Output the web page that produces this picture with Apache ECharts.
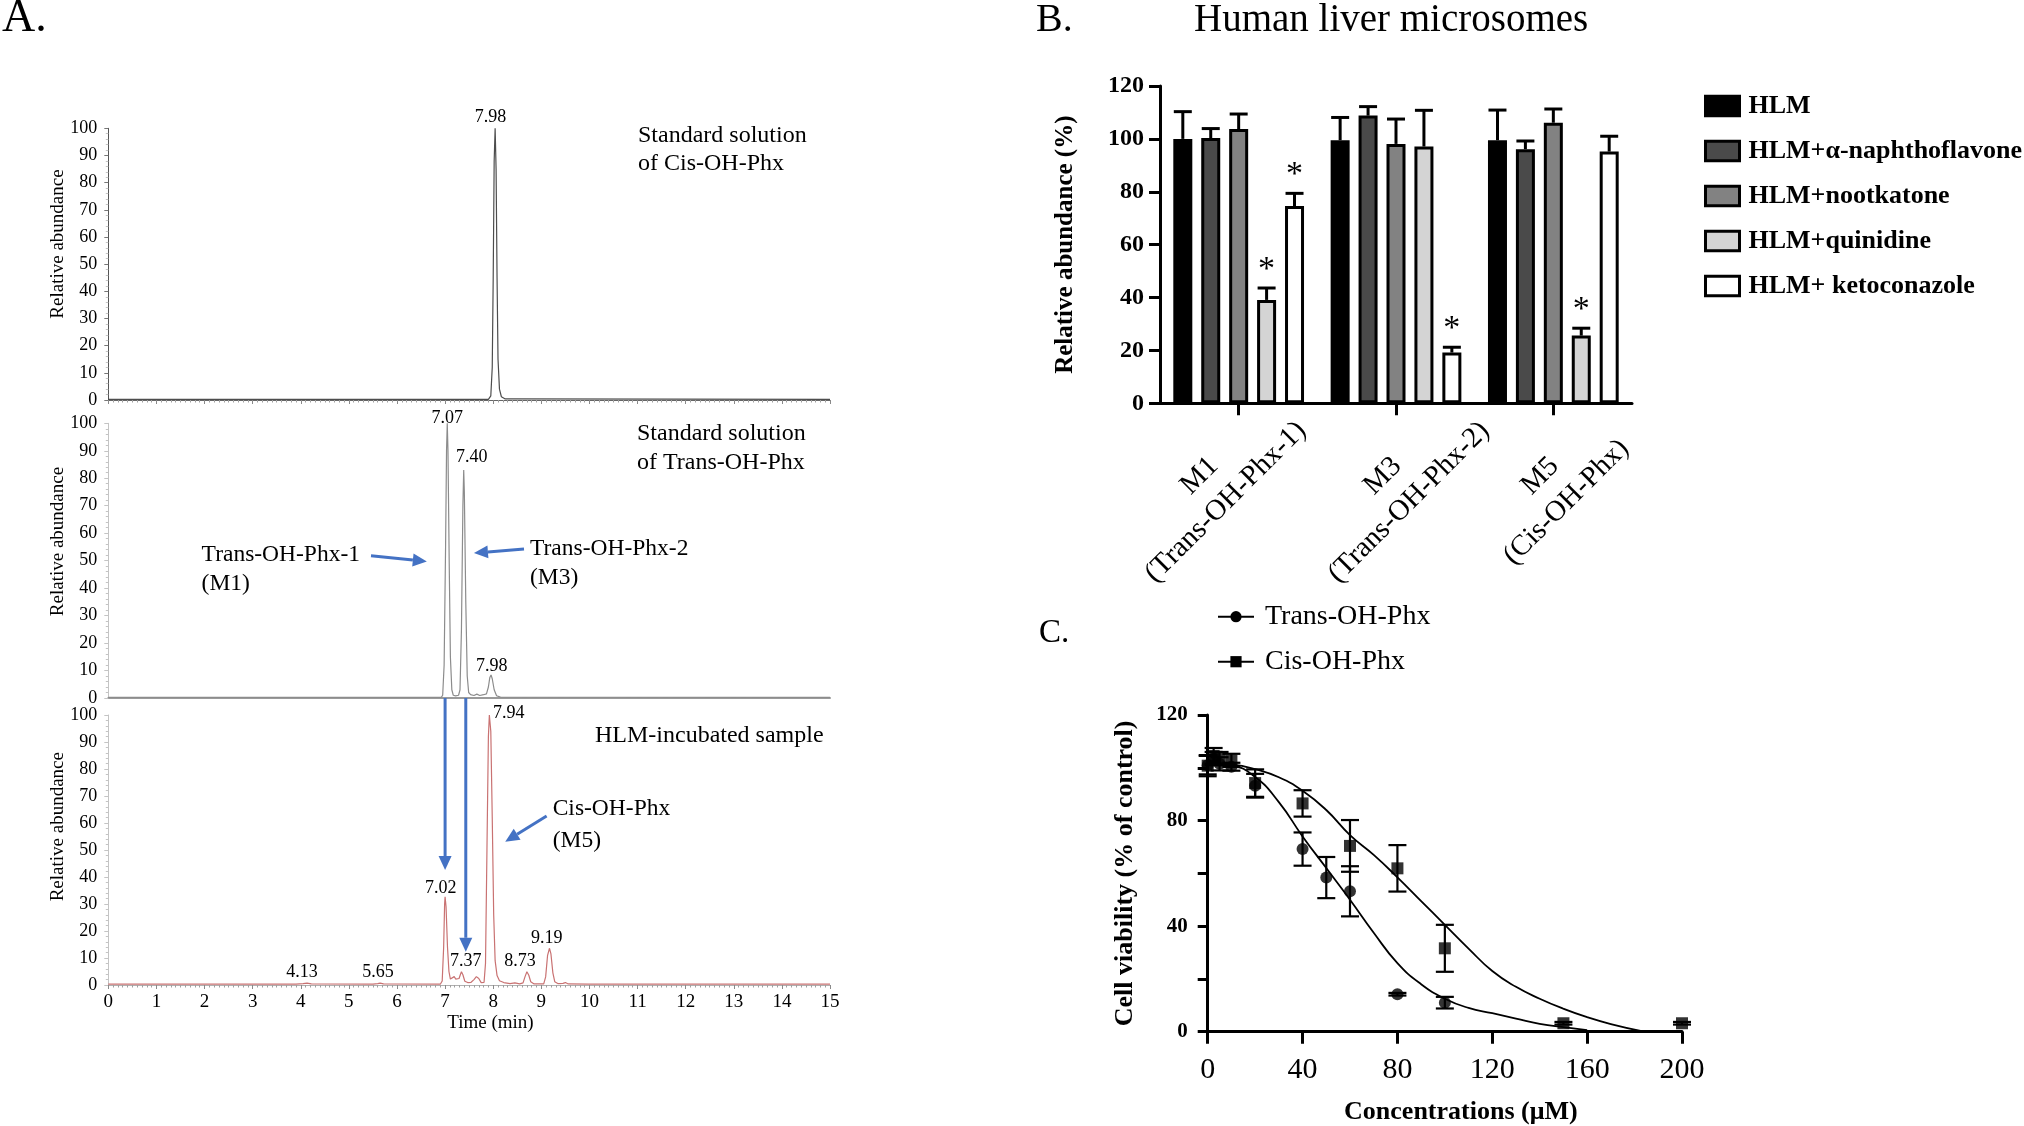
<!DOCTYPE html>
<html><head><meta charset="utf-8">
<script src="https://cdn.jsdelivr.net/npm/echarts@6/dist/echarts.min.js"></script>
<style>html,body{margin:0;padding:0;background:#fff}#c{width:2024px;height:1126px}</style>
</head><body><div id="c"></div>
<script>
// ---------------- Panel A: chromatograms [time (min), relative abundance] ----------------
const cisStdTrace = [[0,0.2],[7.9,0.2],[7.95,1.5],[7.98,12],[8.0,45],[8.02,88],[8.04,100],[8.06,85],[8.08,45],[8.1,15],[8.13,4],[8.17,1.2],[8.25,0.4],[15,0.2]];
const transStdTrace = [[0,0.2],[6.92,0.2],[6.95,1],[6.98,12],[7.01,55],[7.03,90],[7.045,100],[7.06,90],[7.085,50],[7.11,15],[7.14,3],[7.17,1],[7.22,0.8],[7.28,1],[7.31,3],[7.34,25],[7.37,70],[7.387,83],[7.40,75],[7.43,35],[7.46,8],[7.49,2],[7.53,1.2],[7.6,0.9],[7.66,1.4],[7.72,0.9],[7.8,1.2],[7.86,1.5],[7.9,4],[7.93,7.5],[7.955,8.4],[7.98,7],[8.02,3],[8.07,0.8],[8.15,0.3],[15,0.2]];
const hlmTrace = [[0,0.3],[3.9,0.3],[4.05,0.5],[4.13,0.7],[4.22,0.4],[5.5,0.3],[5.6,0.5],[5.65,0.7],[5.72,0.4],[6.9,0.3],[6.94,1.5],[6.97,14],[6.99,30],[7.0,32.7],[7.02,29],[7.05,14],[7.08,5],[7.11,2.2],[7.15,2],[7.19,3.1],[7.22,2.2],[7.26,2.6],[7.29,2.4],[7.32,4],[7.34,4.9],[7.37,3.8],[7.41,1.4],[7.47,0.9],[7.54,1],[7.6,2],[7.65,3.1],[7.7,2.4],[7.75,0.9],[7.81,1],[7.84,8],[7.87,50],[7.9,92],[7.92,100],[7.95,94],[7.98,62],[8.01,26],[8.04,9],[8.08,3.5],[8.13,1.6],[8.22,0.9],[8.35,0.5],[8.45,0.8],[8.55,0.4],[8.62,0.8],[8.66,3],[8.7,4.9],[8.74,3.6],[8.78,1.2],[8.85,0.4],[9.05,0.4],[9.09,3],[9.13,11],[9.17,13.6],[9.2,11.5],[9.24,4.5],[9.28,1.2],[9.35,0.5],[9.45,0.6],[9.5,0.9],[9.56,0.4],[9.98,0.3],[10.0,0.6],[10.05,0.3],[15,0.3]];

// ---------------- Panel B: relative abundance (%) ----------------
const metaboliteIds = ['M1', 'M3', 'M5'];
const metaboliteNames = ['(Trans-OH-Phx-1)', '(Trans-OH-Phx-2)', '(Cis-OH-Phx)'];
const treatments = ['HLM', 'HLM+α-naphthoflavone', 'HLM+nootkatone', 'HLM+quinidine', 'HLM+ ketoconazole'];
const hlmMean  = [100.0, 99.5, 99.5];   const hlmSd  = [10.3, 8.6, 11.4];
const naphMean = [100.3, 108.8, 96.1];  const naphSd = [3.6, 3.4, 3.1];
const nootMean = [103.7, 98.1, 106.1];  const nootSd = [5.7, 9.4, 5.2];
const quinMean = [39.1, 97.1, 25.6];    const quinSd = [4.5, 13.7, 2.8];
const ketoMean = [74.6, 19.2, 95.2];    const ketoSd = [4.8, 2.0, 5.8];
const hlmSig = [0,0,0]; const naphSig = [0,0,0]; const nootSig = [0,0,0];
const quinSig = [1,0,1]; const ketoSig = [1,1,0];

// ---------------- Panel C: cell viability ----------------
const transConc = [0, 2.5, 5, 10, 20, 40, 50, 60, 80, 100];
const transMean = [101, 103.5, 101.5, 100.4, 93.2, 69.2, 58.4, 53.2, 14.2, 11.0];
const transSd   = [3.5, 2.5, 2.5, 1.5, 4.5, 6.3, 7.8, 9.5, 0.5, 2.2];
const cisConc = [0, 2.5, 5, 10, 20, 40, 60, 80, 100, 150, 200];
const cisMean = [100.8, 104.5, 103.5, 102.8, 94.2, 86.5, 70.4, 61.9, 31.6, 3.2, 3.2];
const cisSd   = [4, 3, 2.5, 2.5, 5.2, 5, 9.8, 8.8, 8.9, 0.5, 0.5];
const transFitConc = [0, 10, 20, 30, 40, 50, 60, 70, 80, 90, 100, 110, 120, 130, 140, 150, 160];
const transFitVal  = [101.5, 100.8, 96.5, 87, 74, 62, 50, 37.5, 26, 18, 12.5, 9, 7, 5, 3, 1.7, 0.6];
const cisFitConc = [0, 10, 20, 30, 40, 50, 60, 70, 80, 90, 100, 110, 120, 130, 140, 150, 160, 170, 184];
const cisFitVal  = [101.8, 101.3, 99.5, 96.4, 91.3, 84, 74.5, 67, 58.5, 49.5, 40.5, 31.5, 23, 17, 12.5, 8.7, 5.5, 2.9, 0];

// ---------------- styling ----------------
const F = "'Liberation Serif','Times New Roman',Times,serif";
const barColors = ['#000000', '#4a4a4a', '#828282', '#d4d4d4', '#ffffff'];
const traceColors = ['#4d4d4d', '#8c8c8c', '#c97272'];
const BAR_W = 19, BAR_GAP = 0.47, BAR_STEP = BAR_W * (1 + BAR_GAP);

const chart = echarts.init(document.getElementById('c'), null, {renderer: 'canvas', width: 2024, height: 1126});

const grids = [
  {left: 108.3, top: 128.3, width: 721.7, height: 271.7},
  {left: 108.3, top: 423.3, width: 721.7, height: 274.7},
  {left: 108.3, top: 715, width: 721.7, height: 270},
  {left: 1160, top: 86, width: 472, height: 317.3},
  {left: 1207.7, top: 715, width: 474.3, height: 316.7}
].map(g => Object.assign({containLabel: false, outerBoundsMode: 'none'}, g));

const xAxes = [], yAxes = [];
for (let i = 0; i < 3; i++) {
  xAxes.push({gridIndex: i, type: 'value', min: 0, max: 15, interval: 1,
    axisLine: {show: true, onZero: false, lineStyle: {color: i === 1 ? '#9a9a9a' : (i === 0 ? '#666' : '#b0b0b0'), width: i === 1 ? 2 : 1}},
    axisTick: {show: i !== 1, length: 4, lineStyle: {color: '#8a8a8a'}},
    minorTick: {show: i !== 1, splitNumber: 10, length: 2.5, lineStyle: {color: '#a0a0a0'}},
    axisLabel: {show: i === 2, fontFamily: F, fontSize: 19, color: '#000', margin: 8},
    splitLine: {show: false}, minorSplitLine: {show: false}});
  yAxes.push({gridIndex: i, type: 'value', min: 0, max: 100, interval: 10,
    axisLine: {show: true, onZero: false, lineStyle: {color: i === 0 ? '#555' : '#c4c4c4'}},
    axisTick: {show: true, length: 4, lineStyle: {color: i === 0 ? '#777' : '#c4c4c4'}},
    minorTick: {show: true, splitNumber: 5, length: 2.5, lineStyle: {color: '#c4c4c4'}},
    axisLabel: {fontFamily: F, fontSize: 18, color: '#000', margin: 11},
    splitLine: {show: false}});
}
// Panel B axes
xAxes.push({gridIndex: 3, type: 'category', data: metaboliteIds,
  axisLine: {show: true, onZero: false, lineStyle: {color: '#000', width: 3}},
  axisTick: {show: true, alignWithLabel: true, length: 12, lineStyle: {color: '#000', width: 3}},
  axisLabel: {interval: 0, rotate: 45, align: 'center', verticalAlign: 'middle', margin: 86,
    fontFamily: F, fontSize: 29, lineHeight: 37, color: '#000',
    formatter: (v, idx) => {
      const pad = idx === 0 ? '\u00a0\u00a0\u00a0\u00a0\u00a0' : '';
      return v + pad + '\n' + metaboliteNames[idx] + pad + (idx === 0 ? '\n' : '');
    }},
  splitLine: {show: false}});
yAxes.push({gridIndex: 3, type: 'value', min: 0, max: 120, interval: 20,
  axisLine: {show: true, onZero: false, lineStyle: {color: '#000', width: 3}},
  axisTick: {show: true, length: 11, lineStyle: {color: '#000', width: 3}},
  axisLabel: {fontFamily: F, fontWeight: 'bold', fontSize: 24, color: '#000', margin: 16},
  splitLine: {show: false},
  name: 'Relative abundance (%)', nameLocation: 'middle', nameGap: 82,
  nameTextStyle: {fontFamily: F, fontWeight: 'bold', fontSize: 25, color: '#000'}});
// Panel C axes
xAxes.push({gridIndex: 4, type: 'value', min: 0, max: 200, interval: 40,
  axisLine: {show: true, onZero: false, lineStyle: {color: '#000', width: 3}},
  axisTick: {show: true, length: 12, lineStyle: {color: '#000', width: 3}},
  axisLabel: {fontFamily: F, fontSize: 30, color: '#000', margin: 23},
  splitLine: {show: false},
  name: 'Concentrations (μM)', nameLocation: 'middle', nameGap: 68,
  nameTextStyle: {fontFamily: F, fontWeight: 'bold', fontSize: 26, color: '#000', padding: [0, 0, 0, 32]}});
yAxes.push({gridIndex: 4, type: 'value', min: 0, max: 120, interval: 20,
  axisLine: {show: true, onZero: false, lineStyle: {color: '#000', width: 3}},
  axisTick: {show: true, length: 10, lineStyle: {color: '#000', width: 3}},
  axisLabel: {fontFamily: F, fontWeight: 'bold', fontSize: 21, color: '#000', margin: 20,
    formatter: v => (v % 40 === 0 ? String(v) : '')},
  splitLine: {show: false},
  name: 'Cell viability (% of control)', nameLocation: 'middle', nameGap: 69,
  nameTextStyle: {fontFamily: F, fontWeight: 'bold', fontSize: 26, color: '#000'}});

const series = [];
[cisStdTrace, transStdTrace, hlmTrace].forEach((tr, i) => {
  series.push({type: 'line', name: 'trace' + i, xAxisIndex: i, yAxisIndex: i, data: tr,
    showSymbol: false, symbol: 'none', lineStyle: {color: traceColors[i], width: 1.2}, z: 3, silent: true});
});

const means = [hlmMean, naphMean, nootMean, quinMean, ketoMean];
const sds = [hlmSd, naphSd, nootSd, quinSd, ketoSd];
const sigs = [hlmSig, naphSig, nootSig, quinSig, ketoSig];
treatments.forEach((name, ti) => {
  series.push({type: 'bar', name, xAxisIndex: 3, yAxisIndex: 3, data: means[ti],
    barWidth: BAR_W, barGap: (BAR_GAP * 100) + '%',
    itemStyle: {color: barColors[ti], borderColor: '#000', borderWidth: 3}, z: 2});
  series.push({type: 'custom', name: name + ' error', xAxisIndex: 3, yAxisIndex: 3, z: 4, silent: true,
    data: metaboliteIds.map((_, k) => [k, means[ti][k], sds[ti][k], sigs[ti][k]]),
    renderItem: (params, api) => {
      const k = api.value(0), m = api.value(1), e = api.value(2), s = api.value(3);
      const b = api.coord([k, m]), t = api.coord([k, m + e]);
      const x = b[0] + (ti - 2) * BAR_STEP;
      const ch = [
        {type: 'line', shape: {x1: x, y1: b[1], x2: x, y2: t[1]}, style: {stroke: '#000', lineWidth: 3}},
        {type: 'line', shape: {x1: x - 9, y1: t[1], x2: x + 9, y2: t[1]}, style: {stroke: '#000', lineWidth: 3}}
      ];
      if (s) ch.push({type: 'text', x: x, y: t[1] - 18,
        style: {text: '*', font: '34px ' + F, fill: '#000', align: 'center', verticalAlign: 'middle', textAlign: 'center', textVerticalAlign: 'middle'}});
      return {type: 'group', children: ch};
    }});
});

// Panel C
const zip = (a, b) => a.map((v, i) => [v, b[i]]);
series.push({type: 'line', name: 'Trans-OH-Phx', xAxisIndex: 4, yAxisIndex: 4, data: zip(transFitConc, transFitVal),
  smooth: 0.5, symbol: 'circle', showSymbol: false, symbolSize: 12,
  lineStyle: {color: '#000', width: 1.8}, itemStyle: {color: '#000'}, z: 3, silent: true});
series.push({type: 'line', name: 'Cis-OH-Phx', xAxisIndex: 4, yAxisIndex: 4, data: zip(cisFitConc, cisFitVal),
  smooth: 0.5, symbol: 'rect', showSymbol: false, symbolSize: 12,
  lineStyle: {color: '#000', width: 1.8}, itemStyle: {color: '#000'}, z: 3, silent: true});
const errSeries = (name, xs, ms, ss) => ({type: 'custom', name, xAxisIndex: 4, yAxisIndex: 4, z: 4, silent: true,
  data: xs.map((x, i) => [x, ms[i], ss[i]]),
  renderItem: (params, api) => {
    const x = api.value(0), m = api.value(1), e = api.value(2);
    const lo = api.coord([x, m - e]), hi = api.coord([x, m + e]);
    const st = {stroke: '#000', lineWidth: 2.2};
    return {type: 'group', children: [
      {type: 'line', shape: {x1: lo[0], y1: lo[1], x2: hi[0], y2: hi[1]}, style: st},
      {type: 'line', shape: {x1: lo[0] - 9, y1: lo[1], x2: lo[0] + 9, y2: lo[1]}, style: st},
      {type: 'line', shape: {x1: hi[0] - 9, y1: hi[1], x2: hi[0] + 9, y2: hi[1]}, style: st}
    ]};
  }});
series.push(errSeries('trans err', transConc, transMean, transSd));
series.push(errSeries('cis err', cisConc, cisMean, cisSd));
series.push({type: 'scatter', name: 'Trans points', xAxisIndex: 4, yAxisIndex: 4, data: zip(transConc, transMean),
  symbol: 'circle', symbolSize: 12, itemStyle: {color: '#000'}, z: 5, silent: true});
series.push({type: 'scatter', name: 'Cis points', xAxisIndex: 4, yAxisIndex: 4, data: zip(cisConc, cisMean),
  symbol: 'rect', symbolSize: 12, itemStyle: {color: '#000'}, z: 5, silent: true});

chart.setOption({
  animation: false,
  backgroundColor: '#fff',
  grid: grids, xAxis: xAxes, yAxis: yAxes, series,
  legend: [
    {data: treatments, orient: 'vertical', left: 1704, top: 93, padding: 0, itemWidth: 34, itemHeight: 19.5, itemGap: 19,
      icon: 'rect', itemStyle: {borderColor: '#000', borderWidth: 3}, selectedMode: false,
      textStyle: {fontFamily: F, fontWeight: 'bold', fontSize: 26, color: '#000', padding: [0, 0, 0, 4]}},
    {data: ['Trans-OH-Phx', 'Cis-OH-Phx'], orient: 'vertical', left: 1217, top: 602.7, padding: 0, itemWidth: 36, itemHeight: 14,
      itemGap: 17, selectedMode: false,
      textStyle: {fontFamily: F, fontSize: 28, color: '#000', padding: [0, 0, 0, 6]}}
  ]
});

// ---------------- annotations ----------------
const txt = (text, x, y, size, o = {}) => ({type: 'text', x, y, rotation: o.rot || 0, z: 50, silent: true,
  style: {text, fill: '#000', font: (o.bold ? 'bold ' : '') + size + 'px ' + F,
    align: o.align || 'left', verticalAlign: 'middle', textAlign: o.align || 'left', textVerticalAlign: 'middle'}});
const g = [
  txt('A.', 2, 19, 46),
  txt('7.98', 490.5, 117.5, 18, {align: 'center'}),
  txt('Standard solution', 638, 136, 24), txt('of Cis-OH-Phx', 638, 164, 24),
  txt('7.07', 447.3, 418.3, 18, {align: 'center'}), txt('7.40', 471.7, 457.3, 18, {align: 'center'}),
  txt('7.98', 491.7, 666.7, 18, {align: 'center'}),
  txt('Standard solution', 637, 434, 24), txt('of Trans-OH-Phx', 637, 462.7, 24),
  txt('Trans-OH-Phx-1', 201.6, 555, 23.5), txt('(M1)', 201.6, 584, 23.5),
  txt('Trans-OH-Phx-2', 530, 549.3, 23.5), txt('(M3)', 530, 578, 23.5),
  txt('7.94', 508.8, 713.3, 18, {align: 'center'}),
  txt('HLM-incubated sample', 595, 736, 24),
  txt('Cis-OH-Phx', 552.7, 809, 23.5), txt('(M5)', 552.7, 840.7, 23.5),
  txt('7.02', 440.7, 888.3, 18, {align: 'center'}), txt('7.37', 465.7, 961.7, 18, {align: 'center'}),
  txt('8.73', 520, 961.7, 18, {align: 'center'}), txt('9.19', 546.7, 938.3, 18, {align: 'center'}),
  txt('4.13', 302, 972.7, 18, {align: 'center'}), txt('5.65', 378, 972.7, 18, {align: 'center'}),
  txt('Time (min)', 490.5, 1023, 19, {align: 'center'}),
  txt('Relative abundance', 58, 244, 19, {align: 'center', rot: Math.PI / 2}),
  txt('Relative abundance', 58, 541.5, 19, {align: 'center', rot: Math.PI / 2}),
  txt('Relative abundance', 58, 826.7, 19, {align: 'center', rot: Math.PI / 2}),
  txt('B.', 1036, 20, 40),
  txt('Human liver microsomes', 1194, 21, 39),
  txt('C.', 1039, 633, 33)
];
// arrows, positioned in data coordinates of panel A
function arrow(p0, p1) {
  const dx = p1[0] - p0[0], dy = p1[1] - p0[1], L = Math.hypot(dx, dy), ux = dx / L, uy = dy / L;
  const hl = 14, hw = 6.5, bx = p1[0] - ux * hl, by = p1[1] - uy * hl;
  return [
    {type: 'line', z: 40, silent: true, shape: {x1: p0[0], y1: p0[1], x2: bx, y2: by}, style: {stroke: '#4472c4', lineWidth: 3}},
    {type: 'polygon', z: 40, silent: true, shape: {points: [[p1[0], p1[1]], [bx - uy * hw, by + ux * hw], [bx + uy * hw, by - ux * hw]]}, style: {fill: '#4472c4'}}
  ];
}
const px = (gi, t, v) => chart.convertToPixel({xAxisIndex: gi, yAxisIndex: gi}, [t, v]);
const vArrow = (t, v) => {
  const x = chart.convertToPixel({xAxisIndex: 2}, t);
  return arrow([x, chart.convertToPixel({yAxisIndex: 1}, 0)], [x, chart.convertToPixel({yAxisIndex: 2}, v)]);
};
const arrows = [].concat(
  arrow(px(1, 5.46, 51.8), px(1, 6.62, 49.7)),
  arrow(px(1, 8.64, 54.2), px(1, 7.60, 52.8)),
  arrow(px(2, 9.11, 62.6), px(2, 8.25, 53.1)),
  vArrow(7.0, 42.6),
  vArrow(7.43, 12.3)
);
chart.setOption({graphic: g.concat(arrows)});
</script>
</body></html>
